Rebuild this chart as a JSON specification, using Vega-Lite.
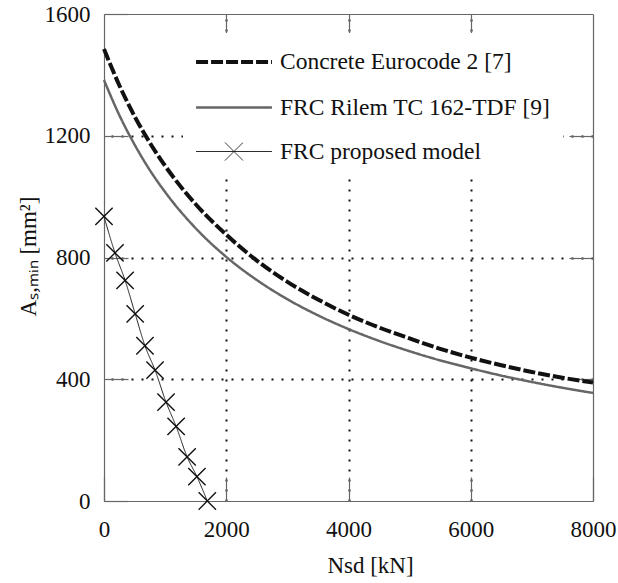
{
  "$schema": "https://vega.github.io/schema/vega-lite/v6.json",
  "width": 489,
  "height": 487,
  "autosize": "none",
  "padding": {"left": 104, "top": 14, "right": 25, "bottom": 82},
  "background": "white",
  "config": {
    "view": {"stroke": null},
    "font": "Liberation Serif",
    "axis": {
      "labelFont": "Liberation Serif",
      "labelFontSize": 23,
      "labelColor": "#111",
      "titleFont": "Liberation Serif",
      "titleFontSize": 23,
      "titleFontWeight": "normal",
      "titleColor": "#111",
      "domainColor": "#666",
      "domainWidth": 1.2,
      "tickColor": "#666",
      "tickWidth": 1.2,
      "tickSize": -24,
      "zindex": 1
    },
    "legend": {
      "labelFont": "Liberation Serif",
      "labelFontSize": 23.5,
      "labelColor": "#111"
    }
  },
  "data": {
    "values": [
      {"series": "Concrete Eurocode 2 [7]", "N": 0, "A": 1485},
      {"series": "Concrete Eurocode 2 [7]", "N": 250, "A": 1366},
      {"series": "Concrete Eurocode 2 [7]", "N": 500, "A": 1264},
      {"series": "Concrete Eurocode 2 [7]", "N": 750, "A": 1177},
      {"series": "Concrete Eurocode 2 [7]", "N": 1000, "A": 1101},
      {"series": "Concrete Eurocode 2 [7]", "N": 1500, "A": 975},
      {"series": "Concrete Eurocode 2 [7]", "N": 2000, "A": 875},
      {"series": "Concrete Eurocode 2 [7]", "N": 2500, "A": 790},
      {"series": "Concrete Eurocode 2 [7]", "N": 3000, "A": 720},
      {"series": "Concrete Eurocode 2 [7]", "N": 3500, "A": 662},
      {"series": "Concrete Eurocode 2 [7]", "N": 4000, "A": 612},
      {"series": "Concrete Eurocode 2 [7]", "N": 4500, "A": 570},
      {"series": "Concrete Eurocode 2 [7]", "N": 5000, "A": 534},
      {"series": "Concrete Eurocode 2 [7]", "N": 5500, "A": 500},
      {"series": "Concrete Eurocode 2 [7]", "N": 6000, "A": 471},
      {"series": "Concrete Eurocode 2 [7]", "N": 6500, "A": 446},
      {"series": "Concrete Eurocode 2 [7]", "N": 7000, "A": 424},
      {"series": "Concrete Eurocode 2 [7]", "N": 7500, "A": 405},
      {"series": "Concrete Eurocode 2 [7]", "N": 8000, "A": 389},
      {"series": "FRC Rilem TC 162-TDF [9]", "N": 0, "A": 1383},
      {"series": "FRC Rilem TC 162-TDF [9]", "N": 250, "A": 1268},
      {"series": "FRC Rilem TC 162-TDF [9]", "N": 500, "A": 1171},
      {"series": "FRC Rilem TC 162-TDF [9]", "N": 750, "A": 1087},
      {"series": "FRC Rilem TC 162-TDF [9]", "N": 1000, "A": 1015},
      {"series": "FRC Rilem TC 162-TDF [9]", "N": 1500, "A": 896},
      {"series": "FRC Rilem TC 162-TDF [9]", "N": 2000, "A": 802},
      {"series": "FRC Rilem TC 162-TDF [9]", "N": 2500, "A": 726},
      {"series": "FRC Rilem TC 162-TDF [9]", "N": 3000, "A": 663},
      {"series": "FRC Rilem TC 162-TDF [9]", "N": 3500, "A": 610},
      {"series": "FRC Rilem TC 162-TDF [9]", "N": 4000, "A": 565},
      {"series": "FRC Rilem TC 162-TDF [9]", "N": 4500, "A": 526},
      {"series": "FRC Rilem TC 162-TDF [9]", "N": 5000, "A": 492},
      {"series": "FRC Rilem TC 162-TDF [9]", "N": 5500, "A": 462},
      {"series": "FRC Rilem TC 162-TDF [9]", "N": 6000, "A": 436},
      {"series": "FRC Rilem TC 162-TDF [9]", "N": 6500, "A": 412},
      {"series": "FRC Rilem TC 162-TDF [9]", "N": 7000, "A": 391},
      {"series": "FRC Rilem TC 162-TDF [9]", "N": 7500, "A": 372},
      {"series": "FRC Rilem TC 162-TDF [9]", "N": 8000, "A": 355},
      {"series": "FRC proposed model", "N": 0, "A": 935},
      {"series": "FRC proposed model", "N": 180, "A": 815},
      {"series": "FRC proposed model", "N": 345, "A": 725},
      {"series": "FRC proposed model", "N": 510, "A": 615},
      {"series": "FRC proposed model", "N": 670, "A": 510},
      {"series": "FRC proposed model", "N": 835, "A": 430},
      {"series": "FRC proposed model", "N": 1015, "A": 325},
      {"series": "FRC proposed model", "N": 1180, "A": 245},
      {"series": "FRC proposed model", "N": 1360, "A": 145},
      {"series": "FRC proposed model", "N": 1520, "A": 80},
      {"series": "FRC proposed model", "N": 1690, "A": 0}
    ]
  },
  "layer": [
    {
      "mark": {"type": "line", "interpolate": "monotone"},
      "encoding": {
        "x": {
          "field": "N", "type": "quantitative",
          "scale": {"domain": [0, 8000], "nice": false, "zero": false},
          "axis": {
            "orient": "bottom",
            "values": [0, 2000, 4000, 6000, 8000],
            "format": "d",
            "grid": false,
            "labelFont": "Liberation Serif",
            "labelFontSize": 23,
            "labelPadding": 41,
            "labelFlush": false,
            "title": "Nsd [kN]",
            "titleFont": "Liberation Serif",
            "titleX": 266,
            "titleY": 71,
            "titleBaseline": "alphabetic",
            "titleAnchor": "middle",
            "titleAlign": "center"
          }
        },
        "y": {
          "field": "A", "type": "quantitative",
          "scale": {"domain": [0, 1600], "nice": false, "zero": false},
          "axis": {
            "orient": "left",
            "values": [0, 400, 800, 1200, 1600],
            "format": "d",
            "grid": false,
            "labelFont": "Liberation Serif",
            "labelFontSize": 23,
            "labelPadding": 38,
            "labelFlush": false,
            "title": "A\u209b,\u2098\u1d62\u2099  [mm\u00b2]",
            "titleFont": "Liberation Serif",
            "titleX": -76,
            "titleY": 242,
            "titleAngle": -90,
            "titleBaseline": "middle",
            "titleAlign": "center"
          }
        },
        "color": {
          "field": "series", "type": "nominal",
          "scale": {
            "domain": ["Concrete Eurocode 2 [7]", "FRC Rilem TC 162-TDF [9]", "FRC proposed model"],
            "range": ["#111111", "#666666", "#222222"]
          },
          "legend": {
            "title": null,
            "orient": "none",
            "legendX": 79,
            "legendY": 19,
            "fillColor": "white",
            "padding": 12,
            "symbolSize": 900,
            "symbolType": "stroke",
            "symbolOffset": 22,
            "labelOffset": 29,
            "rowPadding": 17,
            "zindex": 0,
            "labelLimit": 400,
            "labelFont": "Liberation Serif",
            "labelFontSize": 23.5,
            "encode": {
              "symbols": {
                "update": {
                  "shape": {"signal": "datum.value === 'FRC proposed model' ? 'M-2.53,0H2.53M-0.6,-0.6L0.6,0.6M-0.6,0.6L0.6,-0.6' : 'M-2.53,0H2.53'"}
                }
              }
            }
          }
        },
        "strokeDash": {
          "field": "series", "type": "nominal",
          "scale": {
            "domain": ["Concrete Eurocode 2 [7]", "FRC Rilem TC 162-TDF [9]", "FRC proposed model"],
            "range": [[12, 3], [1, 0], [1, 0]]
          }
        },
        "strokeWidth": {
          "field": "series", "type": "nominal",
          "scale": {
            "domain": ["Concrete Eurocode 2 [7]", "FRC Rilem TC 162-TDF [9]", "FRC proposed model"],
            "range": [4, 1, 1.3]
          }
        }
      }
    },
    {
      "transform": [{"filter": "datum.series === 'FRC proposed model'"}],
      "mark": {
        "type": "point",
        "shape": "M-1,-1L1,1M-1,1L1,-1",
        "filled": false,
        "size": 300,
        "stroke": "#111",
        "strokeWidth": 1.4,
        "opacity": 1
      },
      "encoding": {
        "x": {
          "field": "N", "type": "quantitative",
          "axis": {
            "orient": "top",
            "values": [2000, 4000, 6000],
            "labels": false,
            "title": null,
            "grid": true,
            "gridColor": "#111",
            "gridDash": [2, 8],
            "gridWidth": 2
          }
        },
        "y": {
          "field": "A", "type": "quantitative",
          "axis": {
            "orient": "right",
            "values": [400, 800, 1200],
            "labels": false,
            "title": null,
            "grid": true,
            "gridColor": "#111",
            "gridDash": [2, 8],
            "gridWidth": 2
          }
        }
      }
    }
  ]
}
